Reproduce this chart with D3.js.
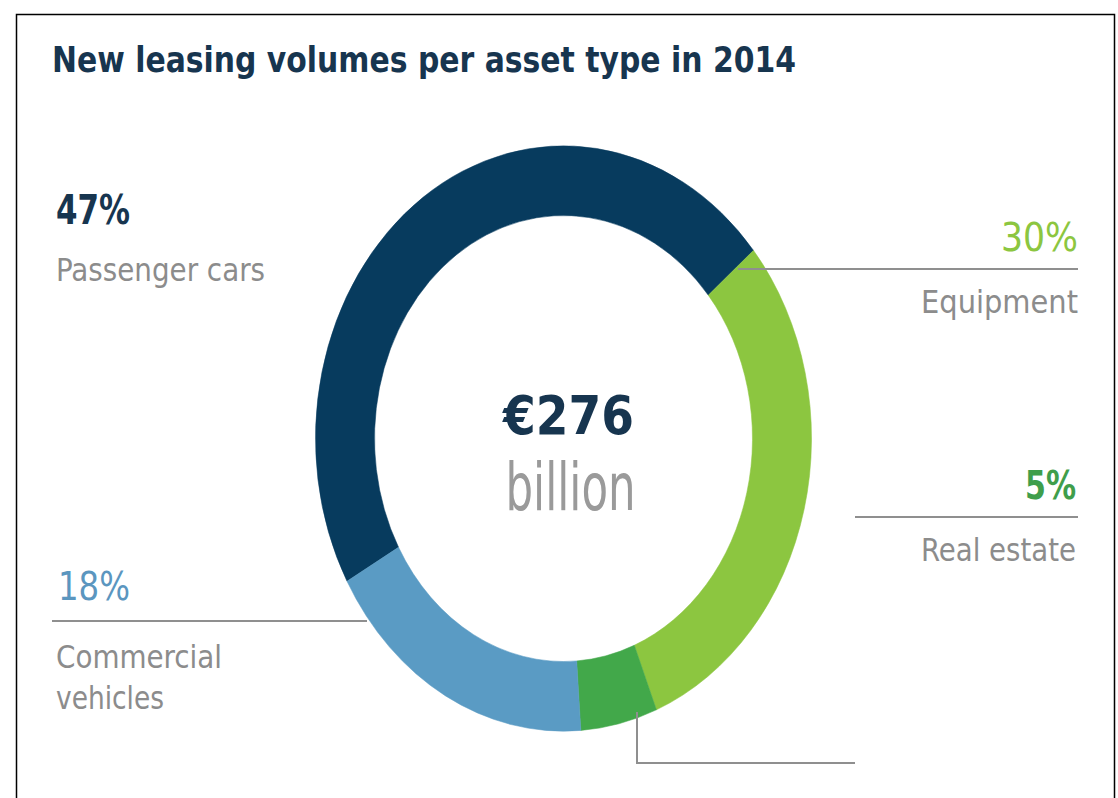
<!DOCTYPE html>
<html>
<head>
<meta charset="utf-8">
<script src="https://cdn.jsdelivr.net/npm/d3@7"></script>
<style>
  html, body { margin: 0; padding: 0; background: #fff; }
  svg { display: block; }
</style>
</head>
<body>
<svg id="chart" width="1118" height="798"></svg>
<script>
// Asset types and their share of new leasing volume (%)
const categories = ["Passenger cars", "Equipment", "Real estate", "Commercial vehicles"];
const shares = [47, 30, 5, 18];
const shareLabels = ["47%", "30%", "5%", "18%"];
const nameLines = [["Passenger cars"], ["Equipment"], ["Real estate"], ["Commercial", "vehicles"]];
const sliceColors = ["#073b5e", "#8cc640", "#42a84a", "#5a9bc4"];
const pctColors = ["#17354f", "#8cc640", "#3f9e4b", "#5b96bf"];
const title = "New leasing volumes per asset type in 2014";
const totalValue = "€276";
const totalUnit = "billion";

const W = 1118, H = 798;
const SY = 1.18;                 // the artwork is drawn slightly taller than wide
const navy = "#17354f", grey = "#8c8c8c", rule = "#8f8f8f";
const FONT = "'DejaVu Sans Condensed', 'DejaVu Sans', sans-serif";

const svg = d3.select("#chart");

// frame
svg.append("path")
  .attr("d", `M16.5,${H} V14.5 H1114.5 V${H}`)
  .attr("fill", "none").attr("stroke", "#000").attr("stroke-width", 1.5);

function label(x, y, str, o) {
  const t = svg.append("text")
    .attr("transform", `translate(${x},${y}) scale(1,${SY})`)
    .attr("font-family", FONT)
    .attr("font-size", o.size)
    .attr("font-weight", o.weight || "normal")
    .attr("fill", o.fill)
    .attr("text-anchor", o.anchor || "start")
    .text(str);
  if (o.len) t.attr("textLength", o.len).attr("lengthAdjust", "spacingAndGlyphs");
  return t;
}

// title
label(52, 72, title, { size: 30, weight: "bold", fill: navy, len: 744 });

// donut
const cx = 563.5, cy = 438.5, rOuter = 248, rInner = 189;
const startDeg = 50 - 360 * shares[0] / 100;   // equipment slice begins at 50° clockwise from top
const pie = d3.pie().sort(null).value(d => d)
  .startAngle(startDeg * Math.PI / 180)
  .endAngle(startDeg * Math.PI / 180 + 2 * Math.PI);
const arc = d3.arc().innerRadius(rInner).outerRadius(rOuter);

const ring = svg.append("g").attr("transform", `translate(${cx},${cy}) scale(1,${SY})`);
ring.selectAll("path")
  .data(pie(shares))
  .join("path")
  .attr("d", arc)
  .attr("fill", (d, i) => sliceColors[i])
  .attr("stroke", (d, i) => sliceColors[i])
  .attr("stroke-width", 0.5);

// centre total
label(cx + 5, 434, totalValue, { size: 45, weight: "bold", fill: navy, anchor: "middle", len: 131 });
label(cx + 7, 510, totalUnit, { size: 56, fill: "#9a9a9a", anchor: "middle", len: 130 });

// leader lines
const lines = svg.append("g").attr("stroke", rule).attr("stroke-width", 2).attr("fill", "none");
lines.append("path").attr("d", "M738,269 H1078");
lines.append("path").attr("d", "M855,517 H1078");
lines.append("path").attr("d", "M637,712 V763 H855");
lines.append("path").attr("d", "M52,621 H367");

// Passenger cars
label(56, 224, shareLabels[0], { size: 34, weight: "bold", fill: pctColors[0], len: 74 });
label(56, 281, nameLines[0][0], { size: 27, fill: grey, len: 209 });

// Equipment
label(1078, 251, shareLabels[1], { size: 33, fill: pctColors[1], anchor: "end", len: 77 });
label(1078, 313, nameLines[1][0], { size: 27, fill: grey, anchor: "end", len: 157 });

// Real estate
label(1076, 499, shareLabels[2], { size: 33, weight: "bold", fill: pctColors[2], anchor: "end", len: 51 });
label(1076, 561, nameLines[2][0], { size: 27, fill: grey, anchor: "end", len: 155 });

// Commercial vehicles
label(58, 600, shareLabels[3], { size: 33, fill: pctColors[3], len: 72 });
label(56, 668, nameLines[3][0], { size: 27, fill: grey, len: 166 });
label(56, 709, nameLines[3][1], { size: 27, fill: grey, len: 108 });
</script>
</body>
</html>
